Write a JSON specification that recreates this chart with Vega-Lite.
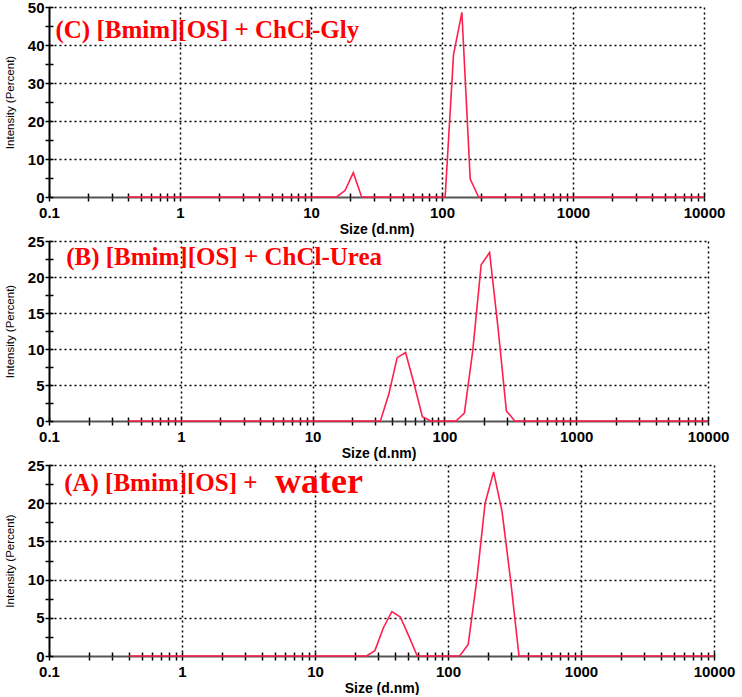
{
  "$schema": "https://vega.github.io/schema/vega-lite/v6.json",
  "padding": {"left": 4, "top": 0, "right": 1, "bottom": 0},
  "background": "white",
  "bounds": "flush",
  "spacing": 44,
  "config": {
    "view": {"stroke": null},
    "axis": {
      "labelFont": "Arial, Liberation Sans, sans-serif",
      "labelFontWeight": "bold",
      "labelFontSize": 15,
      "labelColor": "#000",
      "labelOverlap": false,
      "tickColor": "#000",
      "tickWidth": 1.5,
      "tickSize": 4,
      "tickCount": 200,
      "gridColor": "#000",
      "gridDash": [2, 3],
      "gridWidth": 1.5,
      "domainWidth": 2
    },
    "axisX": {
      "domainColor": "#555",
      "labelPadding": 4,
      "titleFont": "Arial, Liberation Sans, sans-serif",
      "titleFontWeight": "bold",
      "titleFontSize": 14,
      "titleColor": "#000",
      "titlePadding": 2,
      "labelFlush": false
    },
    "axisY": {
      "domainColor": "#000",
      "labelPadding": 1,
      "titleFont": "Arial, Liberation Sans, sans-serif",
      "titleFontWeight": "normal",
      "titleFontSize": 11.5,
      "titleColor": "#000",
      "titlePadding": 12
    }
  },
  "datasets": {
    "C": [
      {"size": 0.4, "intensity": 0},
      {"size": 15.69, "intensity": 0},
      {"size": 18.17, "intensity": 1.7},
      {"size": 21.04, "intensity": 6.4},
      {"size": 24.36, "intensity": 0},
      {"size": 105.7, "intensity": 0},
      {"size": 122.4, "intensity": 37.4},
      {"size": 141.8, "intensity": 48.6},
      {"size": 164.2, "intensity": 4.7},
      {"size": 190.1, "intensity": 0},
      {"size": 10000, "intensity": 0}
    ],
    "B": [
      {"size": 0.4, "intensity": 0},
      {"size": 32.67, "intensity": 0},
      {"size": 37.84, "intensity": 3.7},
      {"size": 43.82, "intensity": 8.8},
      {"size": 50.75, "intensity": 9.5},
      {"size": 58.77, "intensity": 5.2},
      {"size": 68.06, "intensity": 0.6},
      {"size": 78.82, "intensity": 0},
      {"size": 122.4, "intensity": 0},
      {"size": 141.8, "intensity": 1.1},
      {"size": 164.2, "intensity": 9.8},
      {"size": 190.1, "intensity": 21.7},
      {"size": 220.2, "intensity": 23.4},
      {"size": 255.0, "intensity": 13.0},
      {"size": 295.3, "intensity": 1.4},
      {"size": 342.0, "intensity": 0},
      {"size": 10000, "intensity": 0}
    ],
    "A": [
      {"size": 0.4, "intensity": 0},
      {"size": 24.36, "intensity": 0},
      {"size": 28.21, "intensity": 0.7},
      {"size": 32.67, "intensity": 3.7},
      {"size": 37.84, "intensity": 5.8},
      {"size": 43.82, "intensity": 5.1},
      {"size": 50.75, "intensity": 2.6},
      {"size": 58.77, "intensity": 0},
      {"size": 122.4, "intensity": 0},
      {"size": 141.8, "intensity": 1.5},
      {"size": 164.2, "intensity": 9.8},
      {"size": 190.1, "intensity": 20.0},
      {"size": 220.2, "intensity": 24.1},
      {"size": 255.0, "intensity": 18.9},
      {"size": 295.3, "intensity": 10.0},
      {"size": 342.0, "intensity": 0},
      {"size": 10000, "intensity": 0}
    ]
  },
  "vconcat": [
    {
      "width": 655,
      "height": 190,
      "resolve": {"axis": {"x": "independent", "y": "independent"}},
      "layer": [
        {
          "data": {"name": "C"},
          "mark": {"type": "line", "color": "#ff1f4f", "strokeWidth": 1.6},
          "encoding": {
            "x": {
              "field": "size", "type": "quantitative",
              "scale": {"type": "log", "domain": [0.1, 10000], "nice": false},
              "axis": {
                "orient": "bottom",
                "title": "Size (d.nm)",
                "values": [0.1,0.2,0.3,0.4,0.5,0.6,0.7,0.8,0.9,1,2,3,4,5,6,7,8,9,10,20,30,40,50,60,70,80,90,100,200,300,400,500,600,700,800,900,1000,2000,3000,4000,5000,6000,7000,8000,9000,10000],
                "labelExpr": "indexof([0.1,1,10,100,1000,10000], datum.value) >= 0 ? format(datum.value, '~g') : ''",
                "grid": true,
                "gridOpacity": {"condition": {"test": "indexof([1,10,100,1000,10000], datum.value) >= 0", "value": 1}, "value": 0}
              }
            },
            "y": {
              "field": "intensity", "type": "quantitative",
              "scale": {"domain": [0, 50], "nice": false},
              "axis": {
                "orient": "left",
                "title": "Intensity (Percent)",
                "values": [0,5,10,15,20,25,30,35,40,45,50],
                "labelExpr": "datum.value % 10 == 0 ? format(datum.value, 'd') : ''",
                "grid": true,
                "gridOpacity": {"condition": {"test": "datum.value % 10 == 0 && datum.value > 0", "value": 1}, "value": 0}
              }
            }
          }
        },
        {
          "data": {"values": [{}]},
          "mark": {"type": "text", "fontSize": 25, "font": "Liberation Serif, Times New Roman, serif", "fontWeight": "bold", "color": "#ff0000", "align": "left", "baseline": "alphabetic"},
          "encoding": {
            "x": {"datum": 0.112, "type": "quantitative",
              "axis": {"orient": "bottom", "title": null, "labels": false, "grid": false, "domain": false, "tickSize": -4,
                "values": [0.1,0.2,0.3,0.4,0.5,0.6,0.7,0.8,0.9,1,2,3,4,5,6,7,8,9,10,20,30,40,50,60,70,80,90,100,200,300,400,500,600,700,800,900,1000,2000,3000,4000,5000,6000,7000,8000,9000,10000]}},
            "y": {"datum": 41.8, "type": "quantitative",
              "axis": {"orient": "left", "title": null, "labels": false, "grid": false, "domain": false, "tickSize": -4,
                "values": [0,5,10,15,20,25,30,35,40,45,50]}},
            "text": {"value": "(C) [Bmim][OS] + ChCl-Gly"}
          }
        }
      ]
    },
    {
      "width": 659,
      "height": 180,
      "resolve": {"axis": {"x": "independent", "y": "independent"}},
      "layer": [
        {
          "data": {"name": "B"},
          "mark": {"type": "line", "color": "#ff1f4f", "strokeWidth": 1.6},
          "encoding": {
            "x": {
              "field": "size", "type": "quantitative",
              "scale": {"type": "log", "domain": [0.1, 10000], "nice": false},
              "axis": {
                "orient": "bottom",
                "title": "Size (d.nm)",
                "values": [0.1,0.2,0.3,0.4,0.5,0.6,0.7,0.8,0.9,1,2,3,4,5,6,7,8,9,10,20,30,40,50,60,70,80,90,100,200,300,400,500,600,700,800,900,1000,2000,3000,4000,5000,6000,7000,8000,9000,10000],
                "labelExpr": "indexof([0.1,1,10,100,1000,10000], datum.value) >= 0 ? format(datum.value, '~g') : ''",
                "grid": true,
                "gridOpacity": {"condition": {"test": "indexof([1,10,100,1000,10000], datum.value) >= 0", "value": 1}, "value": 0}
              }
            },
            "y": {
              "field": "intensity", "type": "quantitative",
              "scale": {"domain": [0, 25], "nice": false},
              "axis": {
                "orient": "left",
                "title": "Intensity (Percent)",
                "values": [0,2.5,5,7.5,10,12.5,15,17.5,20,22.5,25],
                "labelExpr": "datum.value % 5 == 0 ? format(datum.value, 'd') : ''",
                "grid": true,
                "gridOpacity": {"condition": {"test": "datum.value % 5 == 0 && datum.value > 0", "value": 1}, "value": 0}
              }
            }
          }
        },
        {
          "data": {"values": [{}]},
          "mark": {"type": "text", "fontSize": 25, "font": "Liberation Serif, Times New Roman, serif", "fontWeight": "bold", "color": "#ff0000", "align": "left", "baseline": "alphabetic"},
          "encoding": {
            "x": {"datum": 0.135, "type": "quantitative",
              "axis": {"orient": "bottom", "title": null, "labels": false, "grid": false, "domain": false, "tickSize": -4,
                "values": [0.1,0.2,0.3,0.4,0.5,0.6,0.7,0.8,0.9,1,2,3,4,5,6,7,8,9,10,20,30,40,50,60,70,80,90,100,200,300,400,500,600,700,800,900,1000,2000,3000,4000,5000,6000,7000,8000,9000,10000]}},
            "y": {"datum": 21.7, "type": "quantitative",
              "axis": {"orient": "left", "title": null, "labels": false, "grid": false, "domain": false, "tickSize": -4,
                "values": [0,2.5,5,7.5,10,12.5,15,17.5,20,22.5,25]}},
            "text": {"value": "(B) [Bmim][OS] + ChCl-Urea"}
          }
        }
      ]
    },
    {
      "width": 665,
      "height": 191,
      "resolve": {"axis": {"x": "independent", "y": "independent"}},
      "layer": [
        {
          "data": {"name": "A"},
          "mark": {"type": "line", "color": "#ff1f4f", "strokeWidth": 1.6},
          "encoding": {
            "x": {
              "field": "size", "type": "quantitative",
              "scale": {"type": "log", "domain": [0.1, 10000], "nice": false},
              "axis": {
                "orient": "bottom",
                "title": "Size (d.nm)",
                "values": [0.1,0.2,0.3,0.4,0.5,0.6,0.7,0.8,0.9,1,2,3,4,5,6,7,8,9,10,20,30,40,50,60,70,80,90,100,200,300,400,500,600,700,800,900,1000,2000,3000,4000,5000,6000,7000,8000,9000,10000],
                "labelExpr": "indexof([0.1,1,10,100,1000,10000], datum.value) >= 0 ? format(datum.value, '~g') : ''",
                "grid": true,
                "gridOpacity": {"condition": {"test": "indexof([1,10,100,1000,10000], datum.value) >= 0", "value": 1}, "value": 0}
              }
            },
            "y": {
              "field": "intensity", "type": "quantitative",
              "scale": {"domain": [0, 25], "nice": false},
              "axis": {
                "orient": "left",
                "title": "Intensity (Percent)",
                "values": [0,2.5,5,7.5,10,12.5,15,17.5,20,22.5,25],
                "labelExpr": "datum.value % 5 == 0 ? format(datum.value, 'd') : ''",
                "grid": true,
                "gridOpacity": {"condition": {"test": "datum.value % 5 == 0 && datum.value > 0", "value": 1}, "value": 0}
              }
            }
          }
        },
        {
          "data": {"values": [{}]},
          "mark": {"type": "text", "fontSize": 25, "font": "Liberation Serif, Times New Roman, serif", "fontWeight": "bold", "color": "#ff0000", "align": "left", "baseline": "alphabetic"},
          "encoding": {
            "x": {"datum": 0.13, "type": "quantitative",
              "axis": {"orient": "bottom", "title": null, "labels": false, "grid": false, "domain": false, "tickSize": -4,
                "values": [0.1,0.2,0.3,0.4,0.5,0.6,0.7,0.8,0.9,1,2,3,4,5,6,7,8,9,10,20,30,40,50,60,70,80,90,100,200,300,400,500,600,700,800,900,1000,2000,3000,4000,5000,6000,7000,8000,9000,10000]}},
            "y": {"datum": 21.6, "type": "quantitative",
              "axis": {"orient": "left", "title": null, "labels": false, "grid": false, "domain": false, "tickSize": -4,
                "values": [0,2.5,5,7.5,10,12.5,15,17.5,20,22.5,25]}},
            "text": {"value": "(A) [Bmim][OS] +"}
          }
        },
        {
          "data": {"values": [{}]},
          "mark": {"type": "text", "fontSize": 36, "font": "Liberation Serif, Times New Roman, serif", "fontWeight": "bold", "color": "#ff0000", "align": "left", "baseline": "alphabetic"},
          "encoding": {
            "x": {"datum": 5.0, "type": "quantitative", "axis": null},
            "y": {"datum": 21.4, "type": "quantitative", "axis": null},
            "text": {"value": "water"}
          }
        }
      ]
    }
  ]
}
